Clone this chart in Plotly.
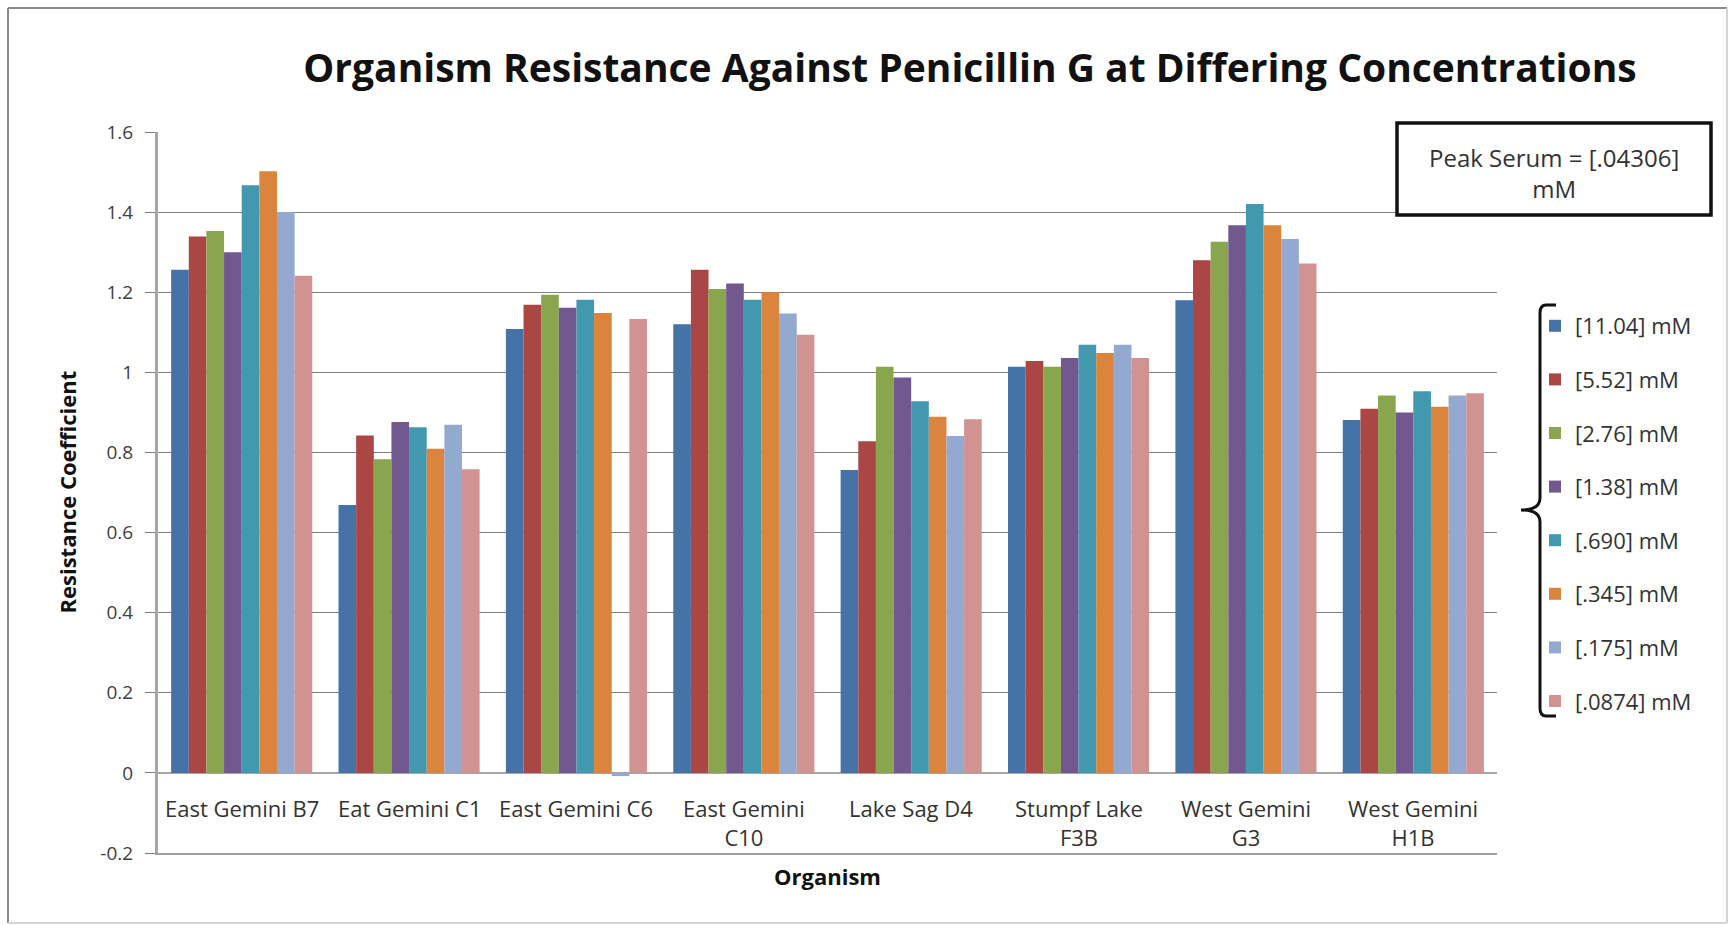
import plotly.graph_objects as go

# Organisms tested (x categories); "\n" marks the wrapped second line of a label
organisms = [
    "East Gemini B7",
    "Eat Gemini C1",
    "East Gemini C6",
    "East Gemini\nC10",
    "Lake Sag D4",
    "Stumpf Lake\nF3B",
    "West Gemini\nG3",
    "West Gemini\nH1B",
]

# Penicillin G concentrations (one bar series each)
concentrations = [
    "[11.04] mM", "[5.52] mM", "[2.76] mM", "[1.38] mM",
    "[.690] mM", "[.345] mM", "[.175] mM", "[.0874] mM",
]

# Resistance coefficient per organism, one list per concentration
conc_11_04 = [1.256, 0.669, 1.108, 1.120, 0.756, 1.014, 1.180, 0.881]
conc_5_52 = [1.339, 0.842, 1.169, 1.256, 0.828, 1.028, 1.280, 0.909]
conc_2_76 = [1.353, 0.783, 1.194, 1.208, 1.014, 1.014, 1.326, 0.942]
conc_1_38 = [1.300, 0.876, 1.161, 1.222, 0.987, 1.036, 1.367, 0.900]
conc_0_690 = [1.467, 0.863, 1.181, 1.181, 0.928, 1.069, 1.420, 0.953]
conc_0_345 = [1.502, 0.809, 1.148, 1.200, 0.889, 1.048, 1.367, 0.914]
conc_0_175 = [1.400, 0.869, -0.008, 1.147, 0.841, 1.069, 1.333, 0.942]
conc_0_0874 = [1.241, 0.758, 1.133, 1.094, 0.883, 1.036, 1.272, 0.948]

series_values = [
    conc_11_04, conc_5_52, conc_2_76, conc_1_38,
    conc_0_690, conc_0_345, conc_0_175, conc_0_0874,
]

colors = [
    "#4572A7", "#AA4643", "#89A54E", "#71588F",
    "#4198AF", "#DB843D", "#93A9D0", "#D19392",
]

y_ticks = [-0.2, 0, 0.2, 0.4, 0.6, 0.8, 1, 1.2, 1.4, 1.6]
y_tick_text = ["-0.2", "0", "0.2", "0.4", "0.6", "0.8", "1", "1.2", "1.4", "1.6"]

# Figure geometry in pixels
FIG_W, FIG_H = 1728, 925
PLOT_L, PLOT_R, PLOT_T, PLOT_B = 158, 1497, 132, 853
PW, PH = PLOT_R - PLOT_L, PLOT_B - PLOT_T


def px(x):
    """Pixel column -> paper x."""
    return (x - PLOT_L) / PW


def py(y):
    """Pixel row -> paper y."""
    return (PLOT_B - y) / PH


FONT = "Open Sans"
cat_keys = [o.replace("\n", " ") for o in organisms]

fig = go.Figure()
for name, vals, col in zip(concentrations, series_values, colors):
    fig.add_trace(go.Bar(
        x=cat_keys, y=vals, name=name, legendgroup=name,
        marker=dict(color=col, line=dict(width=0)),
    ))

shapes = []
# outer chart frame
shapes += [
    dict(type="line", xref="paper", yref="paper", x0=px(8), x1=px(1727), y0=py(8), y1=py(8),
         line=dict(color="#8a8a8a", width=2)),
    dict(type="line", xref="paper", yref="paper", x0=px(8), x1=px(8), y0=py(8), y1=py(923),
         line=dict(color="#8a8a8a", width=2)),
    dict(type="line", xref="paper", yref="paper", x0=px(1727), x1=px(1727), y0=py(8), y1=py(923),
         line=dict(color="#d4d4d4", width=2)),
    dict(type="line", xref="paper", yref="paper", x0=px(8), x1=px(1727), y0=py(923), y1=py(923),
         line=dict(color="#d4d4d4", width=2)),
]
# "Peak Serum" callout box
shapes.append(dict(type="rect", xref="paper", yref="paper",
                   x0=px(1397), x1=px(1711), y0=py(123), y1=py(215),
                   line=dict(color="#111111", width=3.5), fillcolor="white", layer="above"))

# curly brace grouping the legend entries
bx, tip, top, bot, mid = 1540, 1521, 305, 716, 510
pts = [
    ("M", 1556, top), ("L", 1546, top), ("Q", bx, top, bx, top + 8),
    ("L", bx, mid - 12), ("Q", bx, mid, tip, mid),
    ("Q", bx, mid, bx, mid + 12), ("L", bx, bot - 8),
    ("Q", bx, bot, 1546, bot), ("L", 1556, bot),
]
path = ""
for p in pts:
    cmd, coords = p[0], p[1:]
    parts = []
    for i in range(0, len(coords), 2):
        parts.append(f"{px(coords[i]):.5f},{py(coords[i + 1]):.5f}")
    path += cmd + " ".join(parts) + " "
shapes.append(dict(type="path", xref="paper", yref="paper", path=path.strip(),
                   line=dict(color="#111111", width=3)))

annotations = []
# category labels sit just under the zero line
for key, label in zip(cat_keys, organisms):
    annotations.append(dict(
        x=key, y=0, xref="x", yref="y", text=label.replace("\n", "<br>"),
        showarrow=False, yanchor="top", yshift=-18,
        font=dict(family=FONT, size=22, color="#333333"),
    ))
annotations += [
    dict(x=0.5, y=py(876), xref="paper", yref="paper", text="<b>Organism</b>",
         showarrow=False, xanchor="center", yanchor="middle",
         font=dict(family=FONT, size=22, color="#111111")),
    dict(x=px(66), y=0.5, xref="paper", yref="paper", text="<b>Resistance Coefficient</b>",
         showarrow=False, textangle=-90, xanchor="center", yanchor="middle",
         font=dict(family=FONT, size=22, color="#111111")),
    dict(x=px(1554), y=py(173), xref="paper", yref="paper",
         text="Peak Serum = [.04306]<br>mM", showarrow=False,
         xanchor="center", yanchor="middle", align="center",
         font=dict(family=FONT, size=24, color="#333333")),
]

fig.update_layout(
    width=FIG_W, height=FIG_H,
    margin=dict(l=PLOT_L, r=FIG_W - PLOT_R, t=PLOT_T, b=FIG_H - PLOT_B, autoexpand=False),
    paper_bgcolor="white", plot_bgcolor="white",
    title=dict(
        text="<b>Organism Resistance Against Penicillin G at Differing Concentrations</b>",
        x=970 / FIG_W, xref="container", xanchor="center",
        y=1 - 68 / FIG_H, yref="container", yanchor="middle",
        font=dict(family=FONT, size=39, color="#111111"),
    ),
    barmode="group", bargap=0.157, bargroupgap=0,
    xaxis=dict(
        categoryorder="array", categoryarray=cat_keys,
        showticklabels=False, ticks="", showgrid=False, zeroline=False,
        showline=True, linecolor="#a0a0a0", linewidth=2,
    ),
    yaxis=dict(
        range=[-0.2, 1.6], tickvals=y_ticks, ticktext=y_tick_text,
        showgrid=True, gridcolor="#7f7f7f", gridwidth=1,
        zeroline=True, zerolinecolor="#a6a6a6", zerolinewidth=2,
        showline=True, linecolor="#a6a6a6", linewidth=3,
        ticks="outside", ticklen=10, tickcolor="#7f7f7f", tickwidth=1,
        ticklabelstandoff=8,
        tickfont=dict(family=FONT, size=19, color="#404040"),
    ),
    legend=dict(
        x=px(1535), y=py(305), xref="paper", yref="paper", xanchor="left", yanchor="top",
        bgcolor="rgba(0,0,0,0)", tracegroupgap=22, itemwidth=30,
        font=dict(family=FONT, size=22, color="#333333"),
    ),
    shapes=shapes,
    annotations=annotations,
    showlegend=True,
)

fig.write_html("out.html")
